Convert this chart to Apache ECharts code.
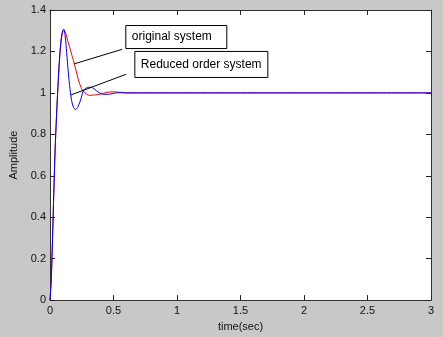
<!DOCTYPE html>
<html>
<head>
<meta charset="utf-8">
<script src="https://cdn.jsdelivr.net/npm/echarts@6/dist/echarts.min.js"></script>
<style>
  html, body { margin: 0; padding: 0; background: #c8c8c8; }
  #main { width: 443px; height: 337px; }
</style>
</head>
<body>
<div id="main"></div>
<script>
// step response
const origT = [0, 0.01, 0.02, 0.03, 0.04, 0.05, 0.06, 0.07, 0.08, 0.09, 0.10, 0.112, 0.125, 0.14, 0.155, 0.17, 0.185, 0.2, 0.222, 0.249, 0.275, 0.3, 0.314, 0.35, 0.4, 0.45, 0.5, 0.55, 0.6, 1, 2, 3];
const origY = [0, 0.1, 0.3, 0.52, 0.72, 0.87, 1.0, 1.11, 1.2, 1.26, 1.295, 1.30, 1.285, 1.25, 1.22, 1.186, 1.155, 1.12, 1.067, 1.02, 1.0, 0.99, 0.988, 0.99, 0.995, 1.003, 1.005, 1.003, 1.0, 1.0, 1.0, 1.0];

const redT = [0, 0.01, 0.02, 0.03, 0.04, 0.05, 0.06, 0.07, 0.08, 0.09, 0.10, 0.108, 0.12, 0.131, 0.144, 0.157, 0.17, 0.185, 0.2, 0.218, 0.236, 0.25, 0.262, 0.275, 0.288, 0.305, 0.327, 0.345, 0.367, 0.39, 0.42, 0.46, 0.5, 0.55, 0.6, 1, 2, 3];
const redY = [0, 0.1, 0.3, 0.52, 0.72, 0.87, 1.0, 1.12, 1.21, 1.27, 1.30, 1.308, 1.27, 1.195, 1.1, 1.02, 0.963, 0.93, 0.92, 0.93, 0.957, 0.985, 1.01, 1.02, 1.024, 1.027, 1.027, 1.02, 1.01, 1.0, 0.993, 0.993, 0.998, 1.001, 1.0, 1.0, 1.0, 1.0];

const xTicks = { min: 0, max: 3, step: 0.5 };
const yTicks = { min: 0, max: 1.4, step: 0.2 };

const zip = (xs, ys) => xs.map((x, i) => [x, ys[i]]);

const chart = echarts.init(document.getElementById('main'));

const axisCommon = {
    axisLine: { show: true, onZero: false, lineStyle: { color: '#333', width: 1 } },
    axisTick: { show: true, inside: true, length: 5, lineStyle: { color: '#222' } },
    splitLine: { show: false },
    axisLabel: { color: '#111', fontFamily: 'Liberation Sans, Arial', fontSize: 11 }
};

chart.setOption({
    backgroundColor: '#c8c8c8',
    animation: false,
    grid: {
        left: 49,
        right: 12,
        top: 10,
        bottom: 33,
        show: true,
        backgroundColor: '#ffffff',
        borderWidth: 0
    },
    xAxis: [
        Object.assign({}, axisCommon, {
            type: 'value',
            min: xTicks.min, max: xTicks.max, interval: xTicks.step,
            name: 'time(sec)',
            nameLocation: 'middle',
            nameGap: 19,
            nameTextStyle: { color: '#111', fontFamily: 'Liberation Sans, Arial', fontSize: 11 },
            axisLabel: Object.assign({}, axisCommon.axisLabel, { margin: 5 })
        }),
        Object.assign({}, axisCommon, {
            type: 'value', position: 'top',
            min: xTicks.min, max: xTicks.max, interval: xTicks.step,
            axisLabel: { show: false }
        })
    ],
    yAxis: [
        Object.assign({}, axisCommon, {
            type: 'value',
            min: yTicks.min, max: yTicks.max, interval: yTicks.step,
            name: 'Amplitude',
            nameLocation: 'middle',
            nameGap: 31,
            nameTextStyle: { color: '#111', fontFamily: 'Liberation Sans, Arial', fontSize: 11 },
            axisLabel: Object.assign({}, axisCommon.axisLabel, { margin: 4 })
        }),
        Object.assign({}, axisCommon, {
            type: 'value', position: 'right',
            min: yTicks.min, max: yTicks.max, interval: yTicks.step,
            axisLabel: { show: false }
        })
    ],
    series: [
        {
            name: 'original system',
            type: 'line',
            data: zip(origT, origY),
            showSymbol: false,
            smooth: 0.3,
            lineStyle: { color: '#ff0000', width: 1 },
            z: 2
        },
        {
            name: 'Reduced order system',
            type: 'line',
            data: zip(redT, redY),
            showSymbol: false,
            smooth: 0.3,
            lineStyle: { color: '#0000ff', width: 1 },
            z: 3
        }
    ]
});

// annotation boxes (MATLAB text arrows), placed in data coordinates
const notes = [
    { text: 'original system', box: [0.597, 1.325], w: 101, h: 23, tail: [0.567, 1.21], head: [0.19, 1.14] },
    { text: 'Reduced order system', box: [0.668, 1.2], w: 133, h: 26, tail: [0.6, 1.09], head: [0.165, 0.99] }
];
const g = [];
notes.forEach((n) => {
    const p = chart.convertToPixel({ gridIndex: 0 }, n.box);
    const a = chart.convertToPixel({ gridIndex: 0 }, n.tail);
    const b = chart.convertToPixel({ gridIndex: 0 }, n.head);
    g.push({
        type: 'line',
        shape: { x1: a[0], y1: a[1], x2: b[0], y2: b[1] },
        style: { stroke: '#000', lineWidth: 1 },
        z: 10
    });
    g.push({
        type: 'rect',
        shape: { x: p[0], y: p[1], width: n.w, height: n.h },
        style: { fill: '#ffffff', stroke: '#000', lineWidth: 1 },
        z: 10
    });
    g.push({
        type: 'text',
        x: p[0] + 6,
        y: p[1] + n.h / 2,
        style: { text: n.text, fill: '#000', font: '12px Liberation Sans, Arial', verticalAlign: 'middle' },
        z: 11
    });
});
chart.setOption({ graphic: g });
</script>
</body>
</html>
